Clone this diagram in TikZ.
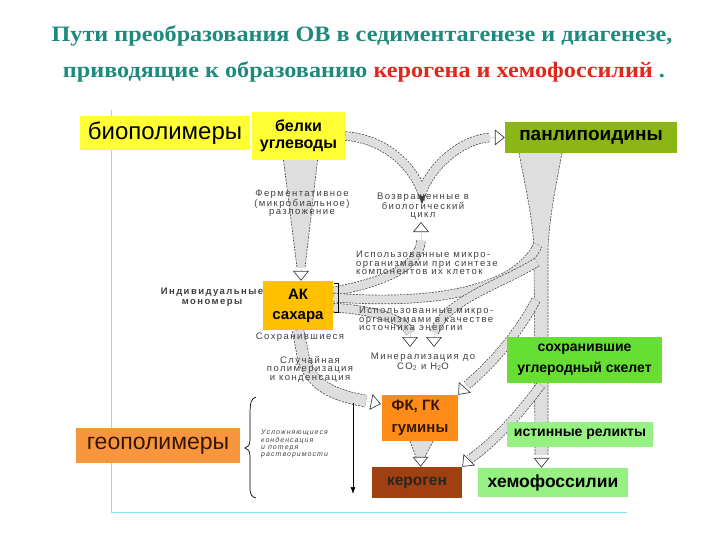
\documentclass[tikz,border=0pt]{standalone}
\usepackage{fontspec}
\setmainfont{Liberation Sans}
\newfontfamily\titlefont[FakeStretch=1.1]{Liberation Serif}
\usetikzlibrary{arrows.meta,calc}
\definecolor{teal1}{RGB}{30,138,125}
\definecolor{redt}{RGB}{222,40,28}
\definecolor{yel}{RGB}{255,255,51}
\definecolor{olive1}{RGB}{140,182,22}
\definecolor{amber}{RGB}{255,192,0}
\definecolor{green1}{RGB}{102,222,52}
\definecolor{orange1}{RGB}{255,140,24}
\definecolor{brown1}{RGB}{160,64,16}
\definecolor{lgreen}{RGB}{150,240,130}
\definecolor{geoor}{RGB}{247,150,60}
\definecolor{darkbr}{RGB}{55,22,0}
\definecolor{cyanl}{RGB}{140,225,240}
\definecolor{bandfill}{RGB}{222,222,222}
\begin{document}
\begin{tikzpicture}[x=1pt,y=-1pt,
  title/.style={font=\titlefont\bfseries\fontsize{22}{24}\selectfont, text=teal1, inner sep=0pt},
  box/.style={inner sep=0pt, align=center, text=black},
  scan/.style={font=\fontsize{9.5}{8.5}\selectfont\addfontfeature{LetterSpace=15}, text=black!75, align=center, inner sep=0pt},
  band/.style={preaction={draw=black!75, line width=9.4pt, dash pattern=on 2pt off 1.2pt}, draw=bandfill, line width=8pt, line join=round},
  wband/.style={preaction={draw=black!75, line width=12.4pt, dash pattern=on 2pt off 1.2pt}, draw=bandfill, line width=11pt, line join=round},
  dsh/.style={draw=black!75, line width=0.6pt, dash pattern=on 2pt off 1.2pt},
  tipst/.style={draw=bandfill, line width=0.3pt, -{Triangle[length=10pt, width=16pt, line width=0.7pt, color=black!75, fill=white]}}
]
\useasboundingbox (0,0) rectangle (720,540);

% frame
\draw[cyanl, line width=0.8pt] (111,110) -- (111,512) -- (627,512);

% title
\node[title] (t1) at (362,36) {Пути преобразования ОВ в седиментагенезе и диагенезе,};
\node[title] (t2) at (364,72) {приводящие к образованию \textcolor{redt}{керогена и хемофоссилий} .};

% boxes (positions first, drawn later on top)
\path (298.5,136) node[box, minimum width=93pt, minimum height=48pt] (bel) {};
\path (591,137.5) node[box, minimum width=172pt, minimum height=31pt] (pan) {};
\path (298,305.5) node[box, minimum width=70pt, minimum height=49pt] (ak) {};
\path (584.5,360) node[box, minimum width=155pt, minimum height=46pt] (skel) {};
\path (420,418) node[box, minimum width=76pt, minimum height=46pt] (fk) {};
\path (417,482.5) node[box, minimum width=90pt, minimum height=31pt] (ker) {};
\path (553,482.5) node[box, minimum width=150pt, minimum height=29pt] (chem) {};
\path (580,434.5) node[box, minimum width=146pt, minimum height=25pt] (rel) {};

% junction coordinates
\coordinate (vb) at (422,192);
\coordinate (j1) at (538,245);
\coordinate (j2) at (537,262);
\coordinate (j3) at (536,300);
\coordinate (j4) at (541,385);
\coordinate (m1) at (410,347);
\coordinate (m2) at (434,347);

% big right band
\fill[bandfill] (519,153) .. controls (526,190) and (533,220) .. (534,250) -- (535,455) -- (548,455) -- (548,250) .. controls (549,220) and (555,190) .. (562,153) -- cycle;
\draw[dsh] (519,153) .. controls (526,190) and (533,220) .. (534,250) -- (535,455);
\draw[dsh] (562,153) .. controls (555,190) and (549,220) .. (548,250) -- (548,455);
\draw[tipst] ($(chem.north)+(-11.5,-14)$) -- ($(chem.north)+(-11.5,0)$);

% belki -> AK (taper)
\fill[bandfill] ($(bel.south)+(-15,0)$) -- ($(bel.south)+(19,0)$) -- ($(ak.north)+(7,-13)$) -- ($(ak.north)+(-1,-13)$) -- cycle;
\draw[dsh] ($(bel.south)+(-15,0)$) -- ($(ak.north)+(-1,-13)$);
\draw[dsh] ($(bel.south)+(19,0)$) -- ($(ak.north)+(7,-13)$);
\draw[tipst] ($(ak.north)+(3,-15)$) -- ($(ak.north)+(3,0)$);

% belki -> V -> panlipoidiny
\draw[band] (bel.east) .. controls (385,139) and (412,165) .. (vb) .. controls (432,165) and (462,139) .. (490,137.5);
\draw[tipst] (490,137.5) -- (pan.west);

% AK -> returned to cycle
\draw[band] ($(ak.east)+(0,-14)$) .. controls (380,283) and (420,268) .. (421,240);
\draw[tipst] (421,240) -- (421,222);

% AK -> big band (synthesis)
\draw[band] ($(ak.east)+(0,-8)$) .. controls (430,305) and (515,292) .. (j1);

% big band -> mineralization
\draw[band] (j2) .. controls (500,285) and (445,300) .. (434,333);
\draw[tipst] (434,333) -- (m2);

% AK -> mineralization (energy)
\draw[band] ($(ak.east)+(0,2)$) .. controls (370,310) and (405,318) .. (410,333);
\draw[tipst] (410,333) -- (m1);

% big band -> FK
\draw[band] (j3) .. controls (515,340) and (485,370) .. (467,385);
\draw[tipst] (467,385) -- (fk.north east);

% big band -> kerogen
\draw[band] (j4) .. controls (515,420) and (490,445) .. (470,459);
\draw[tipst] (470,459) -- (ker.north east);

% AK -> FK (random polymerisation)
\draw[wband] (ak.south) -- (302,350) .. controls (306,385) and (335,396) .. (366,401);
\draw[tipst] (366,401) -- ($(fk.west)+(-1,-14)$);

% FK -> kerogen (taper)
\fill[bandfill] ($(fk.south)+(-10,0)$) -- ($(fk.south)+(13,0)$) -- ($(ker.north)+(8,-10)$) -- ($(ker.north)+(-1,-10)$) -- cycle;
\draw[dsh] ($(fk.south)+(-10,0)$) -- ($(ker.north)+(-1,-10)$);
\draw[dsh] ($(fk.south)+(13,0)$) -- ($(ker.north)+(8,-10)$);
\draw[tipst] ($(ker.north)+(3.5,-13)$) -- ($(ker.north)+(3.5,0)$);

% black arrow
\coordinate (ba1) at (353,403);
\coordinate (ba2) at (353,494);
\draw[line width=0.7pt, -{Latex[length=7pt,width=5pt]}] (ba1) -- (ba2);

% brace
\draw[line width=0.7pt] (256,397) .. controls (251,398) and (250,404) .. (250,414) -- (250,440) .. controls (250,445) and (248,447) .. (245,448) .. controls (248,449) and (250,451) .. (250,456) -- (250,488) .. controls (250,495) and (252,497) .. (256,498);

% bracket at AK
\draw[line width=0.7pt] ($(ak.east)+(1,-22.5)$) -- ($(ak.east)+(5,-22.5)$) -- ($(ak.east)+(5,7)$) -- ($(ak.east)+(1,7)$);

% coloured boxes
\node[box, fill=yel, minimum width=170pt, minimum height=34pt, font=\fontsize{24}{26}\selectfont] (bio) at (165,133) {биополимеры};
\node[box, fill=yel, minimum width=93pt, minimum height=48pt, font=\bfseries\fontsize{16}{17}\selectfont] at (bel) {белки\\углеводы};
\node[box, fill=olive1, minimum width=172pt, minimum height=31pt, font=\bfseries\fontsize{19}{21}\selectfont] at (pan) {панлипоидины};
\node[box, fill=amber, minimum width=70pt, minimum height=49pt, font=\bfseries\fontsize{15}{20}\selectfont] at (ak) {АК\\сахара};
\node[box, fill=green1, minimum width=155pt, minimum height=46pt, font=\bfseries\fontsize{14}{21}\selectfont] at (skel) {сохранившие\\углеродный скелет};
\node[box, fill=orange1, minimum width=76pt, minimum height=46pt, align=left, text=darkbr, font=\bfseries\fontsize{15}{22}\selectfont] at (fk) {ФК, ГК\\гумины};
\node[box, fill=brown1, minimum width=90pt, minimum height=31pt, text=black!85, font=\bfseries\fontsize{15.5}{18}\selectfont] at (ker) {кероген};
\node[box, fill=lgreen, minimum width=150pt, minimum height=29pt, font=\bfseries\fontsize{17.5}{20}\selectfont] at (chem) {хемофоссилии};
\node[box, fill=lgreen, minimum width=146pt, minimum height=25pt, font=\bfseries\fontsize{14}{16}\selectfont] at (rel) {истинные реликты};
\node[box, fill=geoor, minimum width=164pt, minimum height=35pt, text=darkbr, font=\fontsize{23}{25}\selectfont] (geo) at (158,445.5) {геополимеры};

% scanned small labels
\node[scan] (ferm) at (302,203) {Ферментативное\\(микробиальное)\\разложение};
\node[scan] (vozv) at (423,206) {Возвращенные в\\биологический\\цикл};
\node[scan, align=left, anchor=west] (isp1) at (356,263) {Использованные микро-\\организмами при синтезе\\компонентов их клеток};
\node[scan, font=\bfseries\fontsize{9.5}{9.5}\selectfont\addfontfeature{LetterSpace=15}] (indiv) at (212,297) {Индивидуальные\\мономеры};
\node[scan, align=left, anchor=west] (isp2) at (359,320) {Использованные микро-\\организмами в качестве\\источника энергии};
\node[scan] (sohr) at (300,337) {Сохранившиеся};
\node[scan] (sluch) at (310,369) {Случайная\\полимеризация\\и конденсация};
\node[scan] (miner) at (423,362) {Минерализация до\\CO\textsubscript{2} и H\textsubscript{2}O};
\node[scan, align=left, anchor=west, font=\itshape\fontsize{7}{7.3}\selectfont\addfontfeature{LetterSpace=15}] (usl) at (261,444) {Усложняющиеся\\конденсация\\и потеря\\растворимости};
\end{tikzpicture}
\end{document}
